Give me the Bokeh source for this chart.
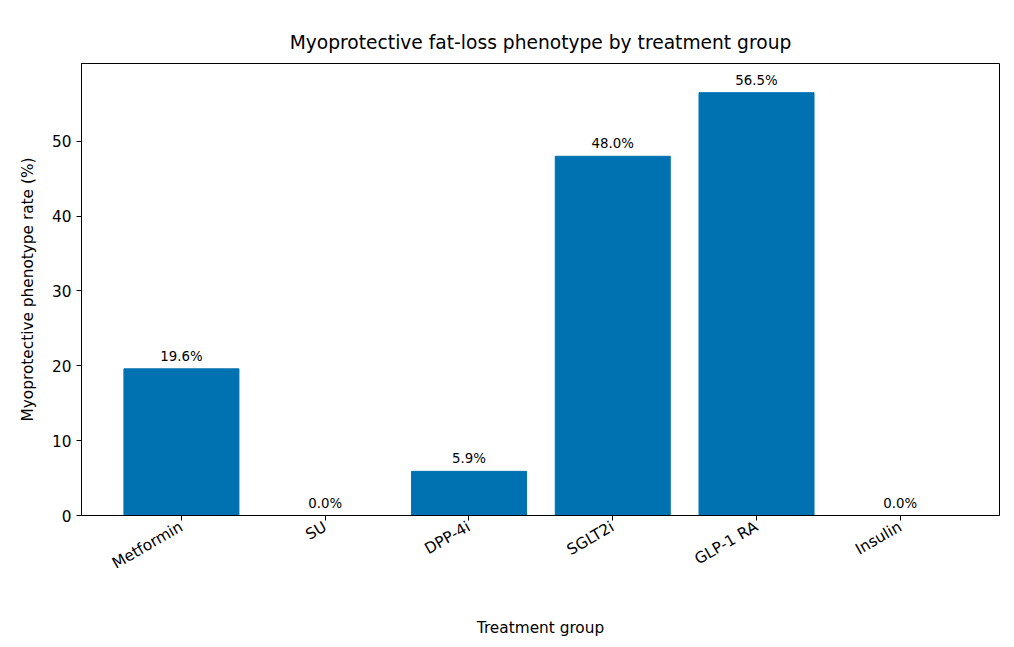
import math
from bokeh.plotting import figure
from bokeh.models import ColumnDataSource, FixedTicker, Range1d
from bokeh.core.properties import value
from bokeh.embed import file_html
from bokeh.resources import INLINE

groups = ["Metformin", "SU", "DPP-4i", "SGLT2i", "GLP-1 RA", "Insulin"]
rates = [19.6, 0.0, 5.9, 48.0, 56.5, 0.0]
labels = [f"{r:.1f}%" for r in rates]
xs = list(range(len(groups)))

src = ColumnDataSource(dict(x=xs, top=rates, lab=labels))
F = "DejaVu Sans"
p = figure(width=1000, height=640, output_backend="svg", toolbar_location=None,
           x_range=Range1d(-0.695, 5.69), y_range=Range1d(0, 60.4),
           min_border_left=81, min_border_right=1, min_border_top=63, min_border_bottom=125,
           title="Myoprotective fat-loss phenotype by treatment group")
p.title.align = "center"
p.title.text_font = F
p.title.text_font_size = "14pt"
p.title.text_font_style = "normal"
p.title.text_color = "black"
p.title.standoff = 22
p.vbar(x="x", top="top", width=0.8, source=src, color="#0072b2")
p.text(x="x", y="top", text="lab", source=src, text_align="center", text_baseline="bottom",
       y_offset=-5, text_font=value(F), text_font_size="10pt", text_color="black")
p.grid.visible = False
p.outline_line_color = "black"
p.xaxis.ticker = FixedTicker(ticks=xs)
p.xaxis.major_label_overrides = {i: g for i, g in enumerate(groups)}
p.xaxis.major_label_orientation = math.pi / 6
p.yaxis.ticker = FixedTicker(ticks=[0, 10, 20, 30, 40, 50])
for ax in (p.xaxis, p.yaxis):
    ax.major_label_text_font = F
    ax.major_label_text_font_size = "11.5pt"
    ax.major_label_text_color = "black"
    ax.axis_label_text_font = F
    ax.axis_label_text_font_size = "11.5pt"
    ax.axis_label_text_font_style = "normal"
    ax.axis_label_text_color = "black"
    ax.minor_tick_line_color = None
    ax.major_tick_out = 5
    ax.major_tick_in = 0
    ax.axis_line_color = "black"
p.xaxis.axis_label = "Treatment group"
p.yaxis.axis_label = "Myoprotective phenotype rate (%)"
p.xaxis.axis_label_standoff = 36
p.yaxis.axis_label_standoff = 12
open("out.html", "w").write(file_html(p, INLINE))
